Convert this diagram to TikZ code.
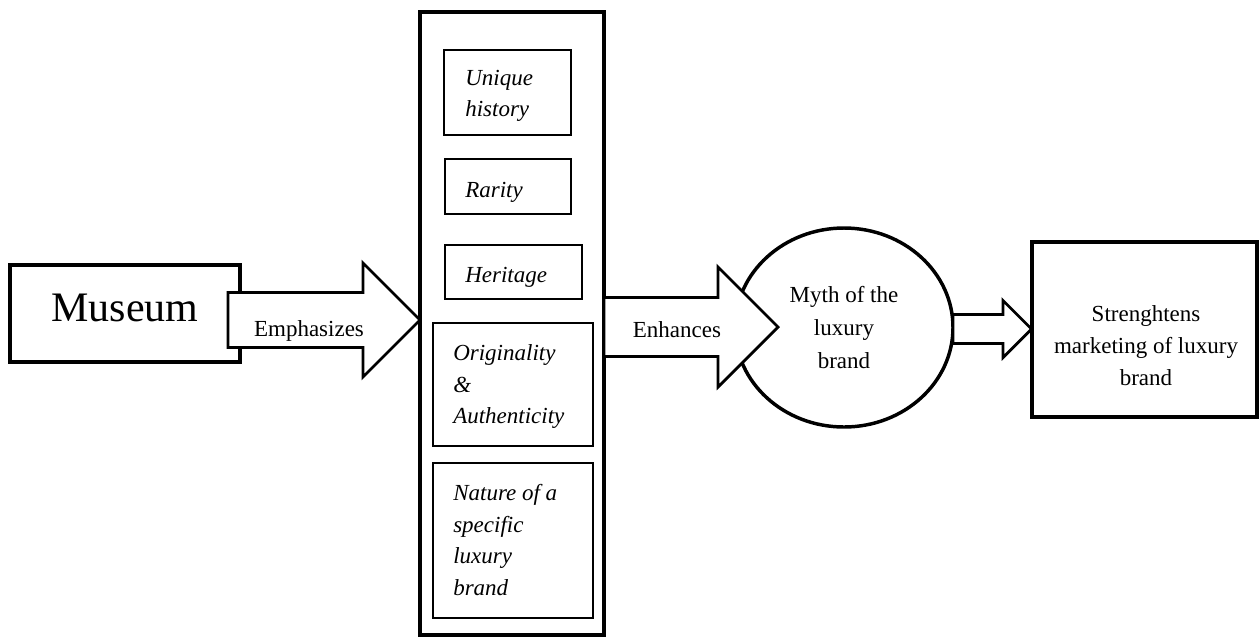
\documentclass[tikz,border=0pt]{standalone}
\usepackage{fontspec}
\setmainfont{Liberation Serif}
\usetikzlibrary{shapes.geometric,fit}

% Block arrow: shaft from x=#1 to head base x=#2, centred on y=#3,
% shaft half-height #4, head half-height #5 (90 degree tip)
\newcommand{\blockarrow}[5]{%
  \draw[arrowline] (#1,#3-#4) -- (#2,#3-#4) -- (#2,#3-#5) -- (#2+#5,#3)
    -- (#2,#3+#5) -- (#2,#3+#4) -- (#1,#3+#4) -- cycle;}

\begin{document}
\begin{tikzpicture}[x=0.75pt,y=-0.75pt,
  heavy/.style={draw, line width=2.6pt, fill=white, inner sep=0pt},
  light/.style={draw, line width=1.2pt, fill=white, inner sep=0pt},
  arrowline/.style={draw, line width=2.1pt, fill=white, line join=miter},
  body/.style={font=\fontsize{17.25}{24}\selectfont, inner sep=0pt, align=center},
  item/.style={font=\fontsize{17.25}{23.6}\selectfont\itshape, inner sep=0pt,
    align=left, anchor=west}]
\useasboundingbox (0,0) rectangle (1260,637);

% source box
\node[heavy, fit={(10,265) (240,362)}] (museum) {};
\node[inner sep=0pt, font=\fontsize{31.5}{36}\selectfont] (museumtext) at (125,308) {Museum};

% first block arrow
\blockarrow{228}{363}{320}{27.5}{57}
\node[body] (emph) at (309,331) {Emphasizes};

% column of brand qualities
\node[heavy, line width=2.8pt, fit={(420,12) (604,635)}] (col) {};
\node[light, fit={(444,50) (571,135)}] (b1) {};
\node[light, fit={(445,159) (571,214)}] (b2) {};
\node[light, fit={(445,245) (582,299)}] (b3) {};
\node[light, fit={(433,323) (593,446)}] (b4) {};
\node[light, fit={(433,463) (593,618)}] (b5) {};
\node[item] (t1) at (465,96) {Unique\\history};
\node[item] (t2) at (465,192) {Rarity};
\node[item] (t3) at (465,277) {Heritage};
\node[item] (t4) at (453,386.5) {Originality\\\&\\Authenticity};
\node[item] (t5) at (453,540) {Nature of a\\specific\\luxury\\brand};

% myth
\node[ellipse, heavy, minimum width=163.5pt, minimum height=149.25pt,
  font=\fontsize{17.25}{24.5}\selectfont, align=center] (myth) at (844,327.5)
  {Myth of the\\luxury\\brand};

% second block arrow
\blockarrow{604}{718}{327}{29.5}{60}
\node[body] (enh) at (677,330) {Enhances};

% third block arrow and result box
\blockarrow{953}{1003}{329}{14.5}{28.5}
\node[heavy, line width=2.8pt, fit={(1032,242) (1257,417)}] (mkt) {};
\node[body] (mkttext) at (1146,346) {Strenghtens\\marketing of luxury\\brand};
\end{tikzpicture}
\end{document}
